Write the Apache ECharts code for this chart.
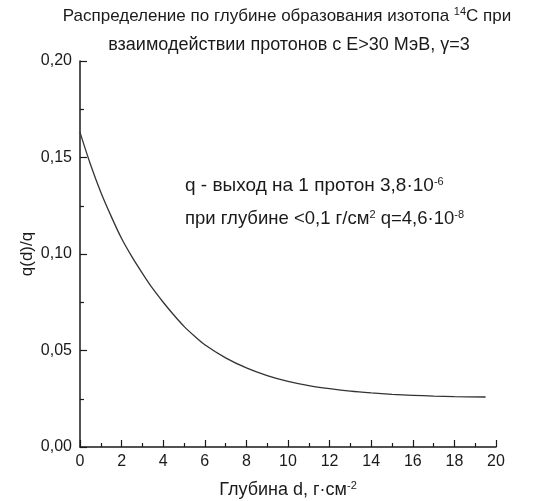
<!DOCTYPE html>
<html>
<head>
<meta charset="utf-8">
<script src="https://cdn.jsdelivr.net/npm/echarts@6/dist/echarts.min.js"></script>
<style>
  html, body { margin: 0; padding: 0; background: #fff; }
  #chart { width: 536px; height: 501px; }
</style>
</head>
<body>
<div id="chart"></div>
<script>
// Depth d, g/cm^2
const depth = [0, 0.5, 1, 1.5, 2, 2.5, 3, 3.5, 4, 4.5, 5, 5.5, 6, 7, 8, 9, 10, 11, 12, 13, 14, 15, 16, 17, 18, 19.5];
// Relative yield q(d)/q
const yieldRatio = [0.163, 0.1465, 0.132, 0.1195, 0.108, 0.0985, 0.090, 0.082, 0.075, 0.0685, 0.0625, 0.0575, 0.053,
  0.0462, 0.041, 0.037, 0.034, 0.0318, 0.0302, 0.0289, 0.028, 0.0273, 0.0268, 0.0264, 0.0261, 0.0259];

const FONT = 'Liberation Sans, Arial, sans-serif';
const INK = '#1a1a1a';

const chart = echarts.init(document.getElementById('chart'), null, { renderer: 'canvas' });

const sup = (size) => ({ fontSize: size, verticalAlign: 'top', padding: [0, 0, 9, 0], fontFamily: FONT, color: INK });

chart.setOption({
  backgroundColor: '#fff',
  animation: false,
  title: [
    {
      text: 'Распределение по глубине образования изотопа {s|14}C при',
      left: 287, top: 6, textAlign: 'center', padding: 0,
      textStyle: { fontFamily: FONT, fontSize: 17, fontWeight: 'normal', color: INK, rich: { s: sup(11) } }
    },
    {
      text: 'взаимодействии протонов с E>30 МэВ, γ=3',
      left: 289, top: 36, textAlign: 'center', padding: 0,
      textStyle: { fontFamily: FONT, fontSize: 18, fontWeight: 'normal', color: INK }
    },
    {
      text: 'q - выход на 1 протон 3,8·10{s|-6}',
      left: 185, top: 176, padding: 0,
      textStyle: { fontFamily: FONT, fontSize: 19, fontWeight: 'normal', color: INK, rich: { s: sup(11) } }
    },
    {
      text: 'при глубине <0,1 г/см{s|2} q=4,6·10{s|-8}',
      left: 185, top: 209, padding: 0,
      textStyle: { fontFamily: FONT, fontSize: 18.5, fontWeight: 'normal', color: INK, rich: { s: sup(11) } }
    }
  ],
  grid: { left: 80, right: 40, top: 61, bottom: 54, containLabel: false, outerBoundsMode: 'none' },
  xAxis: {
    type: 'value', min: 0, max: 20, interval: 2,
    name: 'Глубина d, г·см{s|-2}',
    nameLocation: 'middle', nameGap: 33,
    nameTextStyle: { fontFamily: FONT, fontSize: 18, color: INK, rich: { s: sup(11) } },
    axisLine: { show: true, lineStyle: { color: INK, width: 1.5 } },
    axisTick: { show: true, inside: true, length: 7, lineStyle: { color: INK, width: 1.2 } },
    minorTick: { show: true, splitNumber: 2, length: 4, lineStyle: { color: INK, width: 1.2 } },
    splitLine: { show: false },
    axisLabel: { fontFamily: FONT, fontSize: 16, color: INK, margin: 7 }
  },
  yAxis: {
    type: 'value', min: 0, max: 0.2, interval: 0.05,
    name: 'q(d)/q',
    nameLocation: 'middle', nameGap: 44, nameRotate: 90,
    nameMoveOverlap: false,
    nameTextStyle: { fontFamily: FONT, fontSize: 17, color: INK },
    axisLine: { show: true, lineStyle: { color: INK, width: 1.5 } },
    axisTick: { show: true, inside: true, length: 7, lineStyle: { color: INK, width: 1.2 } },
    minorTick: { show: true, splitNumber: 2, length: 4, lineStyle: { color: INK, width: 1.2 } },
    splitLine: { show: false },
    axisLabel: {
      fontFamily: FONT, fontSize: 16, color: INK, margin: 8,
      formatter: v => v.toFixed(2).replace('.', ',')
    }
  },
  series: [{
    type: 'line',
    data: depth.map((d, i) => [d, yieldRatio[i]]),
    smooth: 0.3,
    showSymbol: false,
    lineStyle: { color: '#333', width: 1.3 }
  }]
});
</script>
</body>
</html>
